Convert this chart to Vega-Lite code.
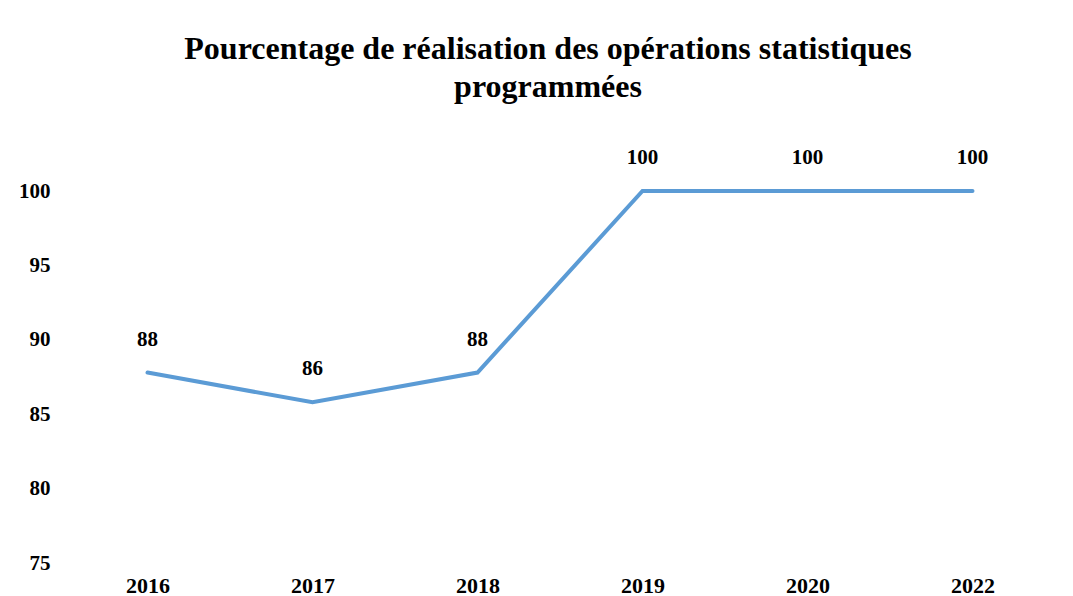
{
  "$schema": "https://vega.github.io/schema/vega-lite/v6.json",
  "width": 990,
  "height": 372,
  "autosize": "none",
  "padding": {"left": 65, "top": 191, "right": 18, "bottom": 33},
  "background": "white",
  "config": {
    "view": {"stroke": null},
    "font": "Liberation Serif"
  },
  "title": {
    "text": ["Pourcentage de réalisation des opérations statistiques", "programmées"],
    "font": "Liberation Serif",
    "fontSize": 32,
    "fontWeight": "bold",
    "color": "black",
    "lineHeight": 38,
    "anchor": "middle",
    "frame": "group",
    "dx": -12,
    "offset": 43
  },
  "data": {
    "values": [
      {"year": "2016", "value": 87.8},
      {"year": "2017", "value": 85.8},
      {"year": "2018", "value": 87.8},
      {"year": "2019", "value": 100},
      {"year": "2020", "value": 100},
      {"year": "2022", "value": 100}
    ]
  },
  "encoding": {
    "x": {
      "field": "year",
      "type": "ordinal",
      "scale": {"type": "point", "padding": 0.5},
      "axis": {
        "title": null,
        "labelAngle": 0,
        "domain": false,
        "ticks": false,
        "labelFont": "Liberation Serif",
        "labelFontSize": 22,
        "labelFontWeight": "bold",
        "labelColor": "black",
        "labelPadding": 12
      }
    },
    "y": {
      "field": "value",
      "type": "quantitative",
      "scale": {"domain": [75, 100], "nice": false, "zero": false},
      "axis": {
        "title": null,
        "values": [75, 80, 85, 90, 95, 100],
        "domain": false,
        "ticks": false,
        "grid": false,
        "labelFont": "Liberation Serif",
        "labelFontSize": 21,
        "labelFontWeight": "bold",
        "labelColor": "black",
        "labelPadding": 15
      }
    }
  },
  "layer": [
    {
      "mark": {"type": "line", "color": "#5b9bd5", "strokeWidth": 4, "strokeCap": "round", "strokeJoin": "miter"}
    },
    {
      "mark": {"type": "text", "dy": -33, "font": "Liberation Serif", "fontSize": 21, "fontWeight": "bold", "color": "black", "baseline": "middle"},
      "encoding": {
        "text": {"field": "value", "type": "quantitative", "format": ".0f"}
      }
    }
  ]
}
